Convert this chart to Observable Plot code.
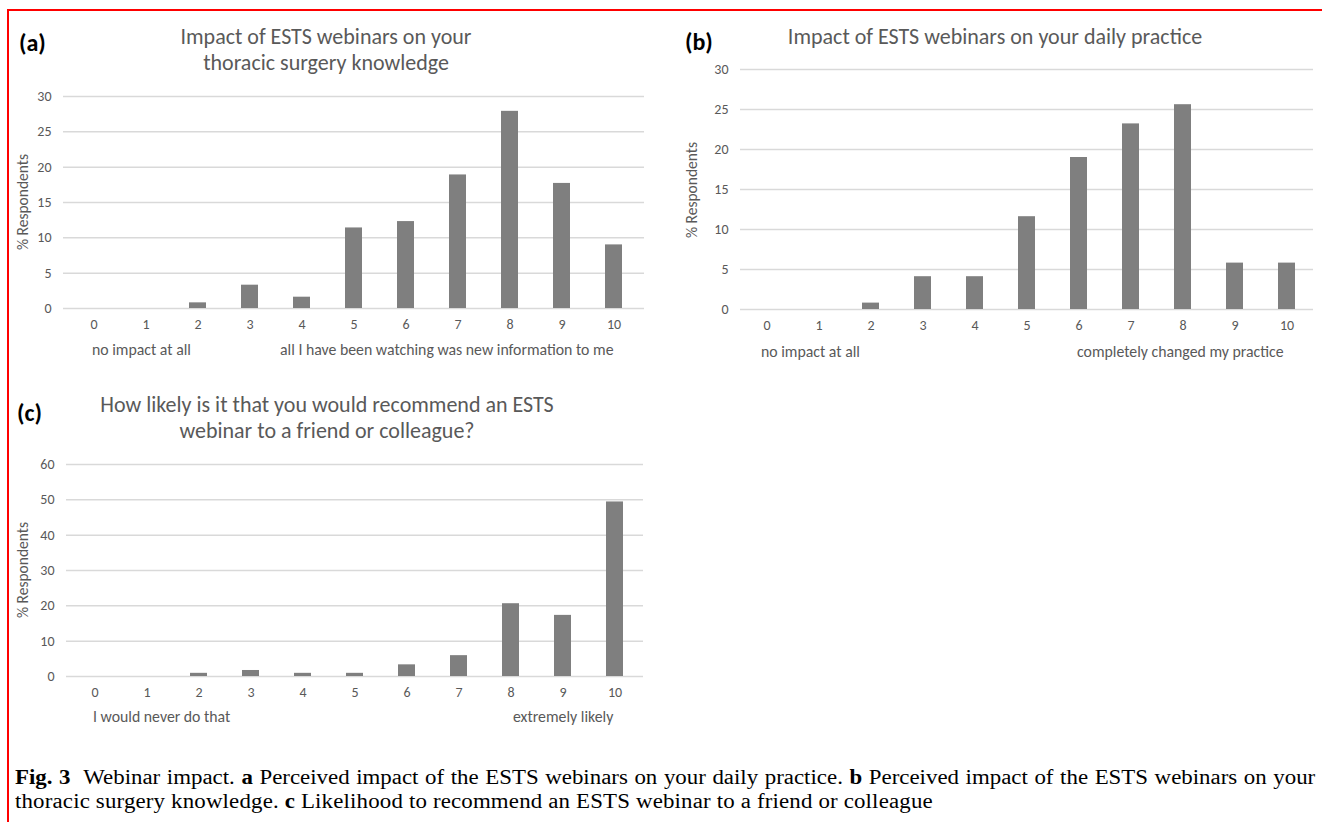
<!DOCTYPE html>
<html><head><meta charset="utf-8">
<script src="https://cdn.jsdelivr.net/npm/d3@7"></script>
<script src="https://cdn.jsdelivr.net/npm/@observablehq/plot@0.6"></script>
<style>
body{margin:0;background:#fff;}
#root{position:relative;width:1322px;height:822px;overflow:hidden;font-family:Carlito,Calibri,Lato,sans-serif;}
.abs{position:absolute;white-space:nowrap;}
.title{color:#595959;font-size:22px;text-align:center;line-height:26px;transform:translateX(-50%);}
.tag{font-weight:bold;font-size:24px;color:#000;line-height:24px;}
.note{color:#595959;font-size:15.8px;line-height:16px;transform:translateY(-50%);}
.ylab{color:#595959;font-size:15.5px;line-height:16px;transform:translate(-50%,-50%) rotate(-90deg);}
.cap{font-family:"Liberation Serif","Times New Roman",serif;font-size:20.8px;line-height:23px;height:23px;color:#000;left:15px;transform:scaleX(1.1);transform-origin:0 50%;}
.frame-top{position:absolute;left:8px;top:9px;width:1314px;height:2px;background:#ff0000;}
.frame-left{position:absolute;left:7px;top:9px;width:2px;height:813px;background:#ff0000;}
</style></head>
<body><div id="root"></div>
<script>
// ---- data ----
const categories = ["0","1","2","3","4","5","6","7","8","9","10"];
const knowledge = [0, 0, 0.8, 3.3, 1.6, 11.4, 12.3, 18.9, 27.9, 17.7, 9.0];
const practice  = [0, 0, 0.8, 4.1, 4.1, 11.6, 19.0, 23.2, 25.6, 5.8, 5.8];
const recommend = [0, 0, 0.9, 1.7, 0.9, 0.9, 3.3, 5.9, 20.6, 17.3, 49.4];
const ticksA = [0, 5, 10, 15, 20, 25, 30];
const ticksB = [0, 5, 10, 15, 20, 25, 30];
const ticksC = [0, 10, 20, 30, 40, 50, 60];
const titleA = ["Impact of ESTS webinars on your", "thoracic surgery knowledge"];
const titleB = ["Impact of ESTS webinars on your daily practice"];
const titleC = ["How likely is it that you would recommend an ESTS", "webinar to a friend or colleague?"];
const yLabel = "% Respondents";
const endsA = ["no impact at all", "all I have been watching was new information to me"];
const endsB = ["no impact at all", "completely changed my practice"];
const endsC = ["I would never do that", "extremely likely"];

const root = document.getElementById("root");
function add(cls, html, style) {
  const d = document.createElement("div");
  d.className = "abs " + cls;
  d.innerHTML = html;
  Object.assign(d.style, style);
  root.appendChild(d);
  return d;
}

function chart(values, ticks, w, h, m) {
  const data = categories.map((c, i) => ({c, v: values[i]}));
  return Plot.plot({
    width: w, height: h,
    marginTop: m[0], marginRight: m[1], marginBottom: m[2], marginLeft: m[3],
    style: {fontFamily: "Carlito, Calibri, Lato, sans-serif", fontSize: "14px", color: "#595959", background: "transparent", overflow: "visible"},
    x: {type: "band", domain: categories, paddingInner: 0.68, paddingOuter: 0.34},
    y: {domain: [ticks[0], ticks[ticks.length - 1]]},
    marks: [
      Plot.gridY(ticks, {stroke: "#d9d9d9", strokeOpacity: 1, strokeWidth: 1.5}),
      Plot.barY(data, {x: "c", y: "v", fill: "#7f7f7f"}),
      Plot.axisY(ticks, {tickSize: 0, tickPadding: 12, label: null, fill: "#595959"}),
      Plot.axisX({tickSize: 0, tickPadding: 11, label: null, fill: "#595959"})
    ]
  });
}

function place(svg, left, top) {
  const d = document.createElement("div");
  d.className = "abs";
  d.style.left = left + "px"; d.style.top = top + "px";
  d.appendChild(svg);
  root.appendChild(d);
}

// frame
const ft = document.createElement("div"); ft.className = "frame-top"; root.appendChild(ft);
const fl = document.createElement("div"); fl.className = "frame-left"; root.appendChild(fl);

// panel a
place(chart(knowledge, ticksA, 660, 280, [16, 16, 52, 63]), 0, 80);
add("tag", "(a)", {left: "19px", top: "31px"});
add("title", titleA.join("<br>"), {left: "326px", top: "24px"});
add("ylab", yLabel, {left: "23px", top: "202px"});
add("note", endsA[0], {left: "92px", top: "350px"});
add("note", endsA[1], {left: "280px", top: "350px"});

// panel b
place(chart(practice, ticksB, 662, 310, [19, 9, 51, 80]), 660, 50);
add("tag", "(b)", {left: "685px", top: "30px"});
add("title", titleB.join("<br>"), {left: "995px", top: "24px"});
add("ylab", yLabel, {left: "692px", top: "190px"});
add("note", endsB[0], {left: "761px", top: "352px"});
add("note", endsB[1], {left: "1077px", top: "352px"});

// panel c
place(chart(recommend, ticksC, 660, 260, [14, 17, 34, 66]), 0, 450);
add("tag", "(c)", {left: "17px", top: "401px"});
add("title", titleC.join("<br>"), {left: "327px", top: "392px"});
add("ylab", yLabel, {left: "23px", top: "570px"});
add("note", endsC[0], {left: "93px", top: "717px"});
add("note", endsC[1], {left: "513px", top: "717px"});

// caption
add("cap", '<b>Fig. 3</b>&nbsp; Webinar impact. <b>a</b> Perceived impact of the ESTS webinars on your daily practice. <b>b</b> Perceived impact of the ESTS webinars on your', {top: "765px", width: "1182px", textAlign: "justify", textAlignLast: "justify"});
add("cap", 'thoracic surgery knowledge. <b>c</b> Likelihood to recommend an ESTS webinar to a friend or colleague', {top: "789px", letterSpacing: "0.15px"});
</script>
</body></html>
